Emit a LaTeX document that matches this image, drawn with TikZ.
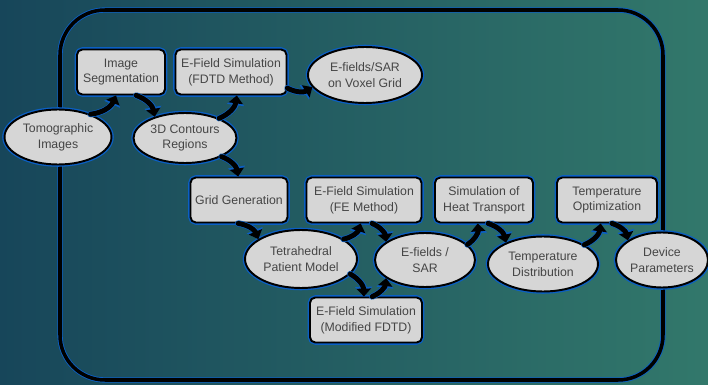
\documentclass[tikz,border=0pt]{standalone}
\usepackage{fontspec}
\setmainfont{Liberation Sans}
\usetikzlibrary{shapes.geometric, arrows.meta}
\definecolor{bgleft}{HTML}{17465A}
\definecolor{bgright}{HTML}{32786B}
\definecolor{glow}{HTML}{0B5FC4}
\definecolor{boxfill}{HTML}{D6D6D6}
\definecolor{txt}{HTML}{454545}
\tikzset{
  glowline/.style={preaction={draw=glow, line width=2.6pt}},
  stepbox/.style={draw=black, line width=1.1pt, fill=boxfill, rounded corners=3pt,
    glowline, minimum height=0.9cm, inner sep=1pt, align=center, text=txt,
    font=\fontsize{7}{9}\selectfont},
  result/.style={ellipse, draw=black, line width=1.1pt, fill=boxfill, glowline,
    inner sep=0pt, align=center, text=txt, font=\fontsize{7}{9}\selectfont},
  flow/.style={line width=2.8pt, -{Triangle[length=4.5pt,width=8pt]},
    preaction={draw=glow, line width=3.6pt, -{Triangle[length=5.5pt,width=9.5pt]}}}
}
\begin{document}
\begin{tikzpicture}[x=0.02cm, y=-0.02cm, line cap=round, line join=round]
  % Hintergrund und Rahmen
  \useasboundingbox (0,0) rectangle (708,385);
  \shade[left color=bgleft, right color=bgright] (0,0) rectangle (708,385);
  \draw[glow, line width=3pt, rounded corners=0.9cm] (60,10) rectangle (663,380);
  \draw[black, line width=2pt, rounded corners=0.9cm] (60,10) rectangle (663,380);

  % Verfahrensschritte (Kaesten)
  \foreach \n/\x/\y/\w/\t in {
      imgseg/121/72/1.76/{Image\\Segmentation},
      fdtd/231/72/2.22/{E-Field Simulation\\(FDTD Method)},
      grid/239/200/1.94/{Grid Generation},
      fem/364/200/2.30/{E-Field Simulation\\(FE Method)},
      heat/484/200/1.96/{Simulation of\\Heat Transport},
      topt/607/200/2.00/{Temperature\\Optimization},
      modf/366/320/2.24/{E-Field Simulation\\(Modified FDTD)}} {
    \node[stepbox, minimum width=\w cm] (\n) at (\x,\y) {\t};
  }

  % Daten (Ellipsen)
  \foreach \n/\x/\y/\w/\h/\t in {
      tomo/58/137/2.14/1.10/{Tomographic\\Images},
      contours/185/138/2.06/1.00/{3D Contours\\Regions},
      voxel/365/75/2.28/1.12/{E-fields/SAR\\on Voxel Grid},
      tetra/301/259/2.24/1.16/{Tetrahedral\\Patient Model},
      sar/425/260/2.00/1.08/{E-fields /\\SAR},
      tdist/543/264/2.20/1.10/{Temperature\\Distribution},
      device/662/260/1.84/1.10/{Device\\Parameters}} {
    \node[result, minimum width=\w cm, minimum height=\h cm] (\n) at (\x,\y) {\t};
  }

  % Pfeile
  \foreach \a/\b/\bend in {
      tomo.35/imgseg.258/-30, imgseg.303/contours.145/30,
      contours.30/fdtd.284/-30, fdtd.344/voxel.193/-30,
      contours.333/grid.92/30, grid.268/tetra.155/30,
      tetra.25/fem.262/-30, fem.289/sar.155/30,
      tetra.343/modf.95/30, modf.75/sar.205/-30,
      sar.20/heat.255/-30, heat.280/tdist.150/30,
      tdist.25/topt.255/-30, topt.282/device.150/30} {
    \draw[flow] (\a) to[bend left=\bend] (\b);
  }
\end{tikzpicture}
\end{document}
